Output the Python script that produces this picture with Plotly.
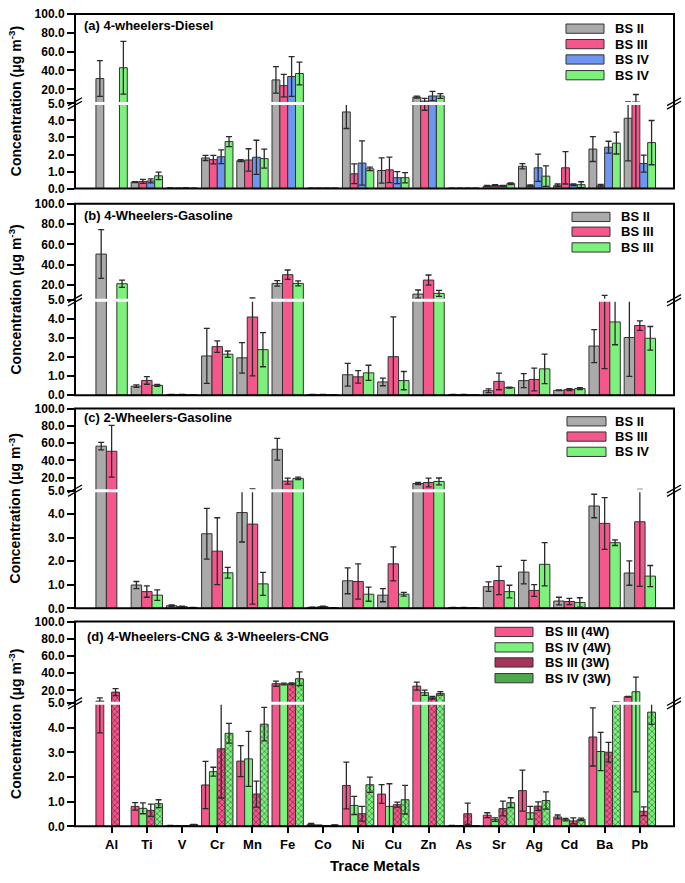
import plotly.graph_objects as go

W, H = 685, 883

METALS = ["Al", "Ti", "V", "Cr", "Mn", "Fe", "Co", "Ni", "Cu", "Zn", "As", "Sr", "Ag", "Cd", "Ba", "Pb"]

# (a) 4-wheelers-Diesel
A_BS2 = [31.4, 0.38, 0.03, 1.80, 1.64, 30.0, 0.02, 4.50, 1.06, 11.8, 0.02, 0.15, 1.31, 0.19, 2.32, 4.13]
A_BS2_ERR = [19.0, 0.03, 0.01, 0.15, 0.06, 14.0, 0.01, 0.97, 0.74, 1.0, 0.01, 0.03, 0.15, 0.08, 0.73, 2.5]
A_BS3 = [None, 0.42, 0.02, 1.70, 1.68, 23.9, 0.02, 0.87, 1.10, 7.5, 0.02, 0.19, 0.17, 1.22, 0.17, 6.5]
A_BS3_ERR = [0, 0.12, 0.01, 0.25, 0.66, 12.0, 0.01, 0.58, 0.75, 2.9, 0.01, 0.04, 0.05, 0.95, 0.07, 8.0]
A_BS4 = [None, 0.45, 0.03, 1.87, 1.84, 33.6, 0.02, 1.50, 0.64, 12.9, 0.02, 0.16, 1.22, 0.23, 2.43, 1.47]
A_BS4_ERR = [0, 0.12, 0.01, 0.40, 1.00, 21.0, 0.01, 1.30, 0.35, 5.0, 0.01, 0.03, 0.80, 0.05, 0.35, 0.50]
A_BS4B = [42.9, 0.75, 0.02, 2.76, 1.76, 36.8, 0.02, 1.16, 0.64, 12.9, 0.02, 0.29, 0.73, 0.23, 2.67, 2.70]
A_BS4B_ERR = [28.0, 0.22, 0.01, 0.29, 0.56, 12.0, 0.01, 0.10, 0.30, 2.5, 0.01, 0.05, 0.60, 0.17, 0.64, 1.30]

# (b) 4-Wheelers-Gasoline
B_BS2 = [50.5, 0.48, 0.04, 2.07, 1.97, 21.6, 0.03, 1.08, 0.70, 11.1, 0.03, 0.24, 0.77, 0.26, 2.59, 3.04]
B_BS2_ERR = [24.0, 0.07, 0.01, 1.45, 0.80, 2.7, 0.01, 0.60, 0.20, 4.0, 0.01, 0.10, 0.37, 0.02, 0.87, 2.05]
B_BS3 = [None, 0.78, 0.04, 2.56, 4.12, 30.2, 0.03, 0.97, 2.03, 24.9, 0.03, 0.73, 0.83, 0.30, 5.6, 3.67]
B_BS3_ERR = [0, 0.20, 0.01, 0.30, 3.10, 4.6, 0.01, 0.33, 2.10, 5.0, 0.01, 0.44, 0.60, 0.05, 4.2, 0.25]
B_BS3B = [21.3, 0.52, 0.02, 2.16, 2.40, 21.6, 0.02, 1.18, 0.77, 11.8, 0.02, 0.40, 1.39, 0.35, 3.86, 3.00]
B_BS3B_ERR = [3.6, 0.05, 0.01, 0.17, 0.90, 2.5, 0.01, 0.40, 0.48, 3.0, 0.01, 0.03, 0.78, 0.05, 1.20, 0.62]

# (c) 2-Wheelers-Gasoline
C_BS2 = [56.5, 0.99, 0.11, 3.17, 4.07, 52.9, 0.04, 1.17, 0.56, 13.3, 0.03, 0.92, 1.54, 0.31, 4.35, 1.50]
C_BS2_ERR = [4.3, 0.15, 0.03, 1.08, 1.25, 12.6, 0.01, 0.55, 0.28, 1.2, 0.01, 0.20, 0.50, 0.16, 0.50, 0.52]
C_BS3 = [50.6, 0.71, 0.07, 2.43, 3.58, 16.1, 0.07, 1.14, 1.89, 14.5, 0.03, 1.18, 0.76, 0.29, 3.61, 3.68]
C_BS3_ERR = [30.0, 0.24, 0.02, 1.42, 3.40, 3.5, 0.02, 0.75, 0.72, 5.0, 0.01, 0.60, 0.25, 0.13, 1.10, 2.75]
C_BS4 = [None, 0.56, 0.03, 1.51, 1.04, 19.2, 0.02, 0.60, 0.60, 15.7, 0.02, 0.71, 1.87, 0.25, 2.79, 1.37]
C_BS4_ERR = [0, 0.22, 0.01, 0.23, 0.49, 1.5, 0.01, 0.30, 0.08, 4.0, 0.01, 0.27, 0.92, 0.20, 0.12, 0.45]

# (d) 4-Wheelers-CNG & 3-Wheelers-CNG
D_BS3_4W = [7.6, 0.81, 0.03, 1.68, 2.65, 27.8, 0.08, 1.66, 1.31, 25.0, 0.03, 0.45, 1.45, 0.38, 3.63, 12.6]
D_BS3_4W_ERR = [3.8, 0.15, 0.01, 0.96, 0.63, 3.0, 0.04, 0.95, 0.38, 4.7, 0.01, 0.10, 0.83, 0.08, 1.18, 0.5]
D_BS4_4W = [None, 0.73, 0.02, 2.22, 2.74, 27.4, 0.04, 0.85, 0.81, 17.3, 0.02, 0.27, 0.55, 0.27, 3.04, 18.4]
D_BS4_4W_ERR = [0, 0.22, 0.01, 0.18, 1.12, 1.0, 0.01, 0.37, 0.92, 3.0, 0.01, 0.07, 0.26, 0.05, 0.78, 17.0]
D_BS3_3W = [18.0, 0.65, 0.02, 3.15, 1.31, 27.8, 0.02, 0.51, 0.88, 11.5, 0.51, 0.72, 0.82, 0.22, 3.01, 0.61]
D_BS3_3W_ERR = [4.0, 0.25, 0.01, 2.0, 0.53, 1.0, 0.01, 0.30, 0.10, 1.5, 0.43, 0.30, 0.17, 0.12, 0.40, 0.18]
D_BS4_3W = [None, 0.92, 0.07, 3.78, 4.15, 33.6, 0.05, 1.69, 1.08, 16.5, 0.02, 0.96, 1.05, 0.28, 6.4, 4.64]
D_BS4_3W_ERR = [0, 0.16, 0.01, 0.40, 0.68, 8.0, 0.01, 0.31, 0.58, 2.0, 0.01, 0.20, 0.35, 0.05, 0.3, 0.5]

LOWER_TICKS = [0, 1, 2, 3, 4, 5]
UPPER_TICKS = [20, 40, 60, 80, 100]

GREY = "#aaaaaa"
PINK = "#f5568c"
BLUE = "#6c96f0"
GREEN = "#7cf27c"
FONT = "Arial, Liberation Sans, sans-serif"


def px(x):
    return x / W


def py(y):
    return 1 - y / H


# panel geometry in pixels: top, break, bottom ; legend rect x, text x, row centres
panels = [
    dict(title="(a) 4-wheelers-Diesel", top=7, brk=98, bot=184.5, title_xy=(82, 19),
         leg_x=(566, 604), leg_tx=613, leg_y=[22, 37.7, 53.3, 69.3],
         series=[("BS II", A_BS2, A_BS2_ERR, GREY, None),
                 ("BS III", A_BS3, A_BS3_ERR, PINK, None),
                 ("BS IV", A_BS4, A_BS4_ERR, BLUE, None),
                 ("BS IV", A_BS4B, A_BS4B_ERR, GREEN, None)]),
    dict(title="(b) 4-Wheelers-Gasoline", top=200, brk=298, bot=394.5, title_xy=(82, 212),
         leg_x=(572, 610), leg_tx=619, leg_y=[213.3, 228.3, 244.3],
         series=[("BS II", B_BS2, B_BS2_ERR, GREY, None),
                 ("BS III", B_BS3, B_BS3_ERR, PINK, None),
                 ("BS III", B_BS3B, B_BS3B_ERR, GREEN, None)]),
    dict(title="(c) 2-Wheelers-Gasoline", top=408, brk=491.5, bot=611, title_xy=(82, 417),
         leg_x=(567, 606), leg_tx=613, leg_y=[421, 436.5, 452],
         series=[("BS II", C_BS2, C_BS2_ERR, GREY, None),
                 ("BS III", C_BS3, C_BS3_ERR, PINK, None),
                 ("BS IV", C_BS4, C_BS4_ERR, GREEN, None)]),
    dict(title="(d) 4-Wheelers-CNG & 3-Wheelers-CNG", top=624.5, brk=707.5, bot=832.5, title_xy=(85, 640),
         leg_x=(495, 533), leg_tx=543, leg_y=[635, 650.7, 666, 682],
         series=[("BS III (4W)", D_BS3_4W, D_BS3_4W_ERR, PINK, None),
                 ("BS IV (4W)", D_BS4_4W, D_BS4_4W_ERR, GREEN, None),
                 ("BS III (3W)", D_BS3_3W, D_BS3_3W_ERR, PINK, "#3a0a1c"),
                 ("BS IV (3W)", D_BS4_3W, D_BS4_3W_ERR, GREEN, "#0e3a0e")]),
]

X0, X1 = 75, 674

fig = go.Figure()
layout = dict(
    width=W, height=H, autosize=False,
    margin=dict(l=0, r=0, t=0, b=0),
    paper_bgcolor="white", plot_bgcolor="white",
    barmode="group", bargap=0.11, bargroupgap=0.0,
    showlegend=False,
    font=dict(family=FONT, color="black"),
)
shapes = []
annotations = []

for i, p in enumerate(panels):
    xa = f"x{i + 1}" if i else "x"
    ylo_i, yhi_i = 2 * i + 1, 2 * i + 2
    ylo = f"y{ylo_i}" if ylo_i > 1 else "y"
    yhi = f"y{yhi_i}"

    # each series drawn twice: lower (0-5) and upper (5-100) part of the broken axis
    for name, vals, errs, col, pat in p["series"]:
        marker = dict(color=col, line=dict(color="#333333", width=1))
        if pat:
            marker["pattern"] = dict(shape="x", fgcolor=pat, size=4, solidity=0.4)
        for ya in (ylo, yhi):
            fig.add_trace(go.Bar(
                x=METALS, y=vals, name=name, marker=marker,
                error_y=dict(type="data", array=errs, visible=True,
                             color="#2a2a2a", thickness=1.3, width=3),
                xaxis=xa, yaxis=ya, showlegend=False,
            ))

    last = i == len(panels) - 1
    layout[f"xaxis{i + 1}" if i else "xaxis"] = dict(
        domain=[px(X0), px(X1)], anchor=ylo, range=[-1.04, 15.97],
        type="category", categoryorder="array", categoryarray=METALS,
        showgrid=False, zeroline=False, showline=False,
        ticks="outside" if last else "", ticklen=6, tickwidth=1.5, tickcolor="black",
        showticklabels=last,
        tickfont=dict(size=13, family=FONT, weight="bold"),
    )
    tick_common = dict(
        anchor=xa, showgrid=False, zeroline=False, showline=False,
        ticks="outside", ticklen=7, tickwidth=1.5, tickcolor="black",
        tickformat=".1f", tickfont=dict(size=12, family=FONT, weight="bold"),
    )
    layout[f"yaxis{ylo_i}" if ylo_i > 1 else "yaxis"] = dict(
        domain=[py(p["bot"]), py(p["brk"])], range=[0, 5], tickvals=LOWER_TICKS, **tick_common)
    layout[f"yaxis{yhi_i}"] = dict(
        domain=[py(p["brk"]), py(p["top"])], range=[5, 100], tickvals=UPPER_TICKS, **tick_common)

    # frame
    shapes.append(dict(type="rect", xref="paper", yref="paper", layer="above",
                       x0=px(X0), x1=px(X1), y0=py(p["bot"]), y1=py(p["top"]),
                       line=dict(color="black", width=2), fillcolor="rgba(0,0,0,0)"))
    # white gap at break
    shapes.append(dict(type="line", xref="paper", yref="paper", layer="above",
                       x0=px(X0 + 1.2), x1=px(X1 - 1.2), y0=py(p["brk"]), y1=py(p["brk"]),
                       line=dict(color="white", width=3)))
    # "//" marks
    for xc in (X0, X1):
        for dy in (-1.8, 1.8):
            shapes.append(dict(type="line", xref="paper", yref="paper", layer="above",
                               x0=px(xc - 7), y0=py(p["brk"] + 4 + dy),
                               x1=px(xc + 7), y1=py(p["brk"] - 4 + dy),
                               line=dict(color="black", width=1.3)))

    # title
    tx, ty = p["title_xy"]
    annotations.append(dict(text=p["title"], xref="paper", yref="paper", x=px(tx), y=py(ty),
                            xanchor="left", yanchor="middle", showarrow=False,
                            font=dict(size=13, family=FONT, weight="bold")))
    # y title
    annotations.append(dict(text="Concentration (μg m<sup>-3</sup>)", xref="paper", yref="paper",
                            x=px(15), y=py((p["top"] + p["bot"]) / 2), textangle=-90,
                            xanchor="center", yanchor="middle", showarrow=False,
                            font=dict(size=14, family=FONT, weight="bold")))
    # legend
    lx0, lx1 = p["leg_x"]
    for (name, vals, errs, col, pat), ly in zip(p["series"], p["leg_y"]):
        fill = col
        if pat:
            fill = "#a8345a" if col == PINK else "#4fa84f"
        shapes.append(dict(type="rect", xref="paper", yref="paper", layer="above",
                           x0=px(lx0), x1=px(lx1), y0=py(ly + 4.7), y1=py(ly - 4.7),
                           line=dict(color="#333333", width=1), fillcolor=fill))
        annotations.append(dict(text=name, xref="paper", yref="paper", x=px(p["leg_tx"]), y=py(ly),
                                xanchor="left", yanchor="middle", showarrow=False,
                                font=dict(size=13, family=FONT, weight="bold")))

annotations.append(dict(text="Trace Metals", xref="paper", yref="paper",
                        x=px((X0 + X1) / 2), y=py(872), xanchor="center", yanchor="middle",
                        showarrow=False, font=dict(size=15, family=FONT, weight="bold")))

layout["shapes"] = shapes
layout["annotations"] = annotations
fig.update_layout(**layout)

# drop the default page margin so the figure sits at the window origin
fig.write_html("out.html", config={"displayModeBar": False},
               post_script="document.body.style.margin='0';document.body.style.overflow='hidden';")
